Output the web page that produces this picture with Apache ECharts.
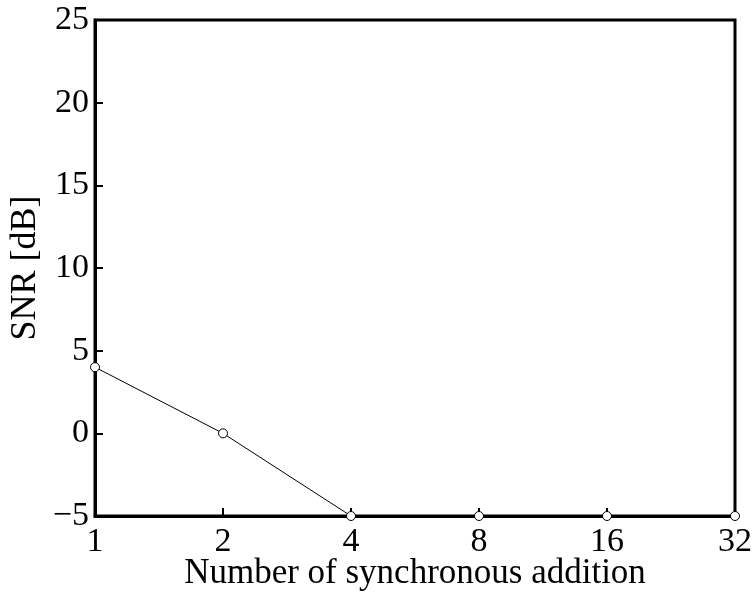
<!DOCTYPE html>
<html><head><meta charset="utf-8">
<script src="https://cdn.jsdelivr.net/npm/echarts@6/dist/echarts.min.js"></script>
<style>html,body{margin:0;padding:0;background:#fff}#c{width:755px;height:595px}</style>
</head><body><div id="c"></div>
<script>
const categories = ['1','2','4','8','16','32'];
const snrValues = [4, 0, -5, -5, -5, -5];
const font = '"Liberation Serif", "Times New Roman", serif';
const chart = echarts.init(document.getElementById('c'));
chart.setOption({
  animation: false,
  backgroundColor: '#fff',
  grid: {left: 95, right: 20, top: 20, bottom: 79, outerBoundsMode: 'none', containLabel: false,
    show: true, borderColor: '#000', borderWidth: 3, backgroundColor: 'transparent'},
  xAxis: {
    type: 'category', data: categories, boundaryGap: false,
    name: 'Number of synchronous addition', nameLocation: 'middle', nameGap: 40, nameMoveOverlap: false,
    nameTextStyle: {fontFamily: font, fontSize: 35, color: '#000'},
    axisLine: {onZero: false, lineStyle: {color: '#000', width: 3}},
    axisTick: {inside: true, length: 8, lineStyle: {color: '#000', width: 2}},
    axisLabel: {fontFamily: font, fontSize: 34, color: '#000', margin: 9},
    splitLine: {show: false}
  },
  yAxis: {
    type: 'value', min: -5, max: 25, interval: 5,
    name: 'SNR [dB]', nameLocation: 'middle', nameGap: 51, nameMoveOverlap: false,
    nameTextStyle: {fontFamily: font, fontSize: 36, color: '#000'},
    axisLine: {show: true, onZero: false, lineStyle: {color: '#000', width: 3}},
    axisTick: {show: true, inside: true, length: 8, lineStyle: {color: '#000', width: 2}},
    axisLabel: {fontFamily: font, fontSize: 34, color: '#000', margin: 6,
      formatter: v => String(v).replace('-', '\u2212')},
    splitLine: {show: false}
  },
  series: [{
    type: 'line', data: snrValues,
    symbol: 'circle', symbolSize: 9,
    itemStyle: {color: '#fff', borderColor: '#000', borderWidth: 1},
    lineStyle: {color: '#000', width: 1},
    clip: false
  }]
});
</script></body></html>
